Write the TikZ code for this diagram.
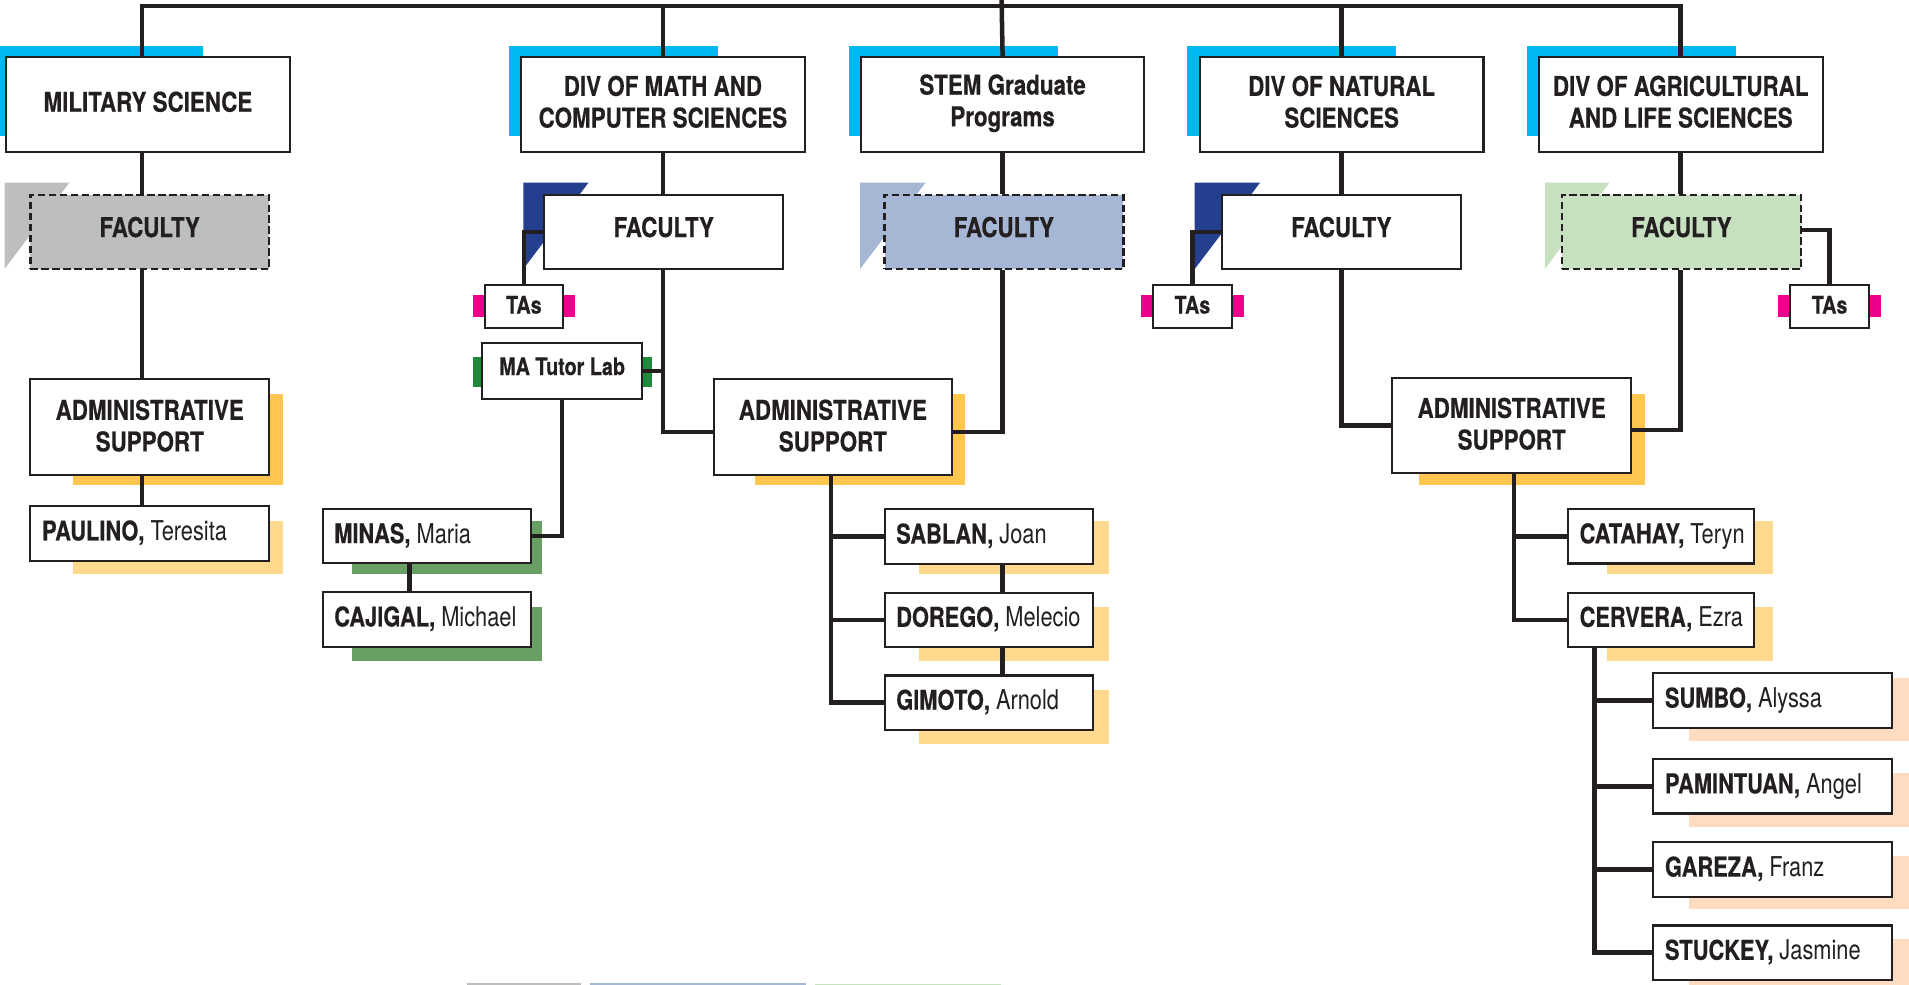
\documentclass[tikz,border=0pt]{standalone}
\usepackage{fontspec}
\setmainfont{TeX Gyre Heros}[FakeStretch=0.82, BoldFeatures={FakeBold=0.4}]
\newfontfamily\namefont{TeX Gyre Heros}[FakeStretch=0.80, BoldFeatures={FakeBold=0.4}]
\usetikzlibrary{calc}
\definecolor{ink}{HTML}{231F20}
\definecolor{cyanacc}{HTML}{00B9F1}
\definecolor{navyacc}{HTML}{253F8F}
\definecolor{greyfac}{HTML}{BCBEC0}
\definecolor{bluefac}{HTML}{A5B7D5}
\definecolor{greenfac}{HTML}{C6E0C0}
\definecolor{magacc}{HTML}{EC008C}
\definecolor{dkgreen}{HTML}{1F8A3A}
\definecolor{gshadow}{HTML}{68A063}
\definecolor{ashadow}{HTML}{FEC64E}
\definecolor{lshadow}{HTML}{FFD98D}
\definecolor{pshadow}{HTML}{FDDCC2}
\pgfdeclarelayer{bg}
\pgfdeclarelayer{mid}
\pgfsetlayers{bg,mid,main}
\begin{document}
\begin{tikzpicture}[x=0.5pt,y=-0.5pt,
  box/.style={draw=ink, line width=0.85pt, fill=white, inner sep=0pt},
  facbox/.style={box, line width=1.05pt, dash pattern=on 3pt off 1.5pt},
  ttl/.style={text=ink, font=\bfseries\fontsize{11.2}{13}\selectfont, align=center, inner sep=0pt},
  small/.style={text=ink, font=\bfseries\fontsize{9.9}{12}\selectfont, inner sep=0pt},
  nm/.style={text=ink, font=\namefont\fontsize{11.2}{13}\selectfont, anchor=base west, inner sep=0pt},
  conn/.style={draw=ink, line width=1.85pt, line join=miter},
  lvone/.style={box, minimum width=116.5pt, minimum height=39pt},
  lvfac/.style={minimum width=98pt, minimum height=30.5pt},
  tabox/.style={box, minimum width=32.25pt, minimum height=17.8pt},
  adminbox/.style={box, minimum width=98pt, minimum height=39.2pt},
  namebox/.style={box, minimum height=22.35pt}
]
\useasboundingbox (0,0) rectangle (1568,809);

% ---------- level 1 ----------
\node[lvone] (mil)  at (121.5,86) {};
\node[lvone] (math) at (544.5,86) {};
\node[lvone] (stem) at (823.5,86) {};
\node[lvone] (nat)  at (1102,86) {};
\node[lvone] (agri) at (1380.5,86) {};
\node[ttl] (milT)  at ([yshift=1.2pt]mil.center) {MILITARY SCIENCE};
\node[ttl] (mathT) at ([yshift=1.2pt]math.center) {DIV OF MATH AND\\COMPUTER SCIENCES};
\node[ttl] (stemT) at ([yshift=0.6pt]stem.center) {STEM Graduate\\Programs};
\node[ttl] (natT)  at ([yshift=1.2pt]nat.center) {DIV OF NATURAL\\SCIENCES};
\node[ttl] (agriT) at ([yshift=1.2pt]agri.center) {DIV OF AGRICULTURAL\\AND LIFE SCIENCES};

% ---------- faculty ----------
\node[facbox, lvfac, fill=greyfac]  (milfac)  at (123,190.5) {};
\node[box,    lvfac]                (mathfac) at (545.2,190.5) {};
\node[facbox, lvfac, fill=bluefac]  (stemfac) at (824.6,190.5) {};
\node[box,    lvfac]                (natfac)  at (1101.75,190.5) {};
\node[facbox, lvfac, fill=greenfac] (agrifac) at (1381.1,190.5) {};
\foreach \f in {milfac,mathfac,stemfac,natfac,agrifac}
  \node[ttl] (\f T) at ([yshift=2pt]\f.center) {FACULTY};

% ---------- TAs ----------
\node[tabox] (mathta) at (430.25,251.8) {};
\node[tabox] (natta)  at (979.4,251.8) {};
\node[tabox] (agrita) at (1502.75,251.8) {};
\foreach \t in {mathta,natta,agrita}
  \node[small] (\t T) at ([yshift=0.7pt]\t.center) {TAs};

% ---------- MA Tutor Lab ----------
\node[box, minimum width=65.7pt, minimum height=22.9pt] (tutor) at (461.7,304.9) {};
\node[small] (tutorT) at ([yshift=2pt]tutor.center) {MA Tutor Lab};

% ---------- administrative support ----------
\node[adminbox] (miladmin) at (123,350.8) {};
\node[adminbox] (madmin)   at (684.1,350.8) {};
\node[adminbox] (radmin)   at (1241.65,349.3) {};
\foreach \a in {miladmin,madmin,radmin}
  \node[ttl] (\a T) at ([yshift=0.6pt]\a.center) {ADMINISTRATIVE\\SUPPORT};

% ---------- names ----------
\node[namebox, minimum width=98pt, minimum height=22.7pt] (paulino) at (123,438.1) {};
\node[namebox, minimum width=85.7pt] (minas)   at (350.7,440.35) {};
\node[namebox, minimum width=85.7pt] (cajigal) at (350.7,508.75) {};
\node[namebox, minimum width=85.7pt] (sablan)  at (812.3,440.7) {};
\node[namebox, minimum width=85.7pt] (dorego)  at (812.3,509.05) {};
\node[namebox, minimum width=85.7pt] (gimoto)  at (812.3,577.15) {};
\node[namebox, minimum width=76.55pt] (catahay) at (1364.45,440.5) {};
\node[namebox, minimum width=76.55pt] (cervera) at (1364.45,509.05) {};
\node[namebox, minimum width=97.9pt] (sumbo)   at (1455.9,575.4) {};
\node[namebox, minimum width=97.9pt] (pamin)   at (1455.9,645.8) {};
\node[namebox, minimum width=97.9pt] (gareza)  at (1455.9,714.2) {};
\node[namebox, minimum width=97.9pt] (stuckey) at (1455.9,782.5) {};
\node[nm] (paulinoT) at ([xshift=5pt,yshift=-2.9pt]paulino.west) {\textbf{PAULINO,} Teresita};
\node[nm] (minasT)   at ([xshift=5pt,yshift=-2.9pt]minas.west) {\textbf{MINAS,} Maria};
\node[nm] (cajigalT) at ([xshift=5pt,yshift=-2.9pt]cajigal.west) {\textbf{CAJIGAL,} Michael};
\node[nm] (sablanT)  at ([xshift=5pt,yshift=-2.9pt]sablan.west) {\textbf{SABLAN,} Joan};
\node[nm] (doregoT)  at ([xshift=5pt,yshift=-2.9pt]dorego.west) {\textbf{DOREGO,} Melecio};
\node[nm] (gimotoT)  at ([xshift=5pt,yshift=-2.9pt]gimoto.west) {\textbf{GIMOTO,} Arnold};
\node[nm] (catahayT) at ([xshift=5pt,yshift=-2.9pt]catahay.west) {\textbf{CATAHAY,} Teryn};
\node[nm] (cerveraT) at ([xshift=5pt,yshift=-2.9pt]cervera.west) {\textbf{CERVERA,} Ezra};
\node[nm] (sumboT)   at ([xshift=5pt,yshift=-2.9pt]sumbo.west) {\textbf{SUMBO,} Alyssa};
\node[nm] (paminT)   at ([xshift=5pt,yshift=-2.9pt]pamin.west) {\textbf{PAMINTUAN,} Angel};
\node[nm] (garezaT)  at ([xshift=5pt,yshift=-2.9pt]gareza.west) {\textbf{GAREZA,} Franz};
\node[nm] (stuckeyT) at ([xshift=5pt,yshift=-2.9pt]stuckey.west) {\textbf{STUCKEY,} Jasmine};

% ---------- helper coordinates ----------
\coordinate (root) at (822.5,-10);
\coordinate (busR) at (1380.5,5);
\coordinate (milx) at (116.6,0);
\coordinate (minasx) at (336.3,0);
\coordinate (tx1) at (682.4,0);
\coordinate (tx2) at (1243.6,0);
\coordinate (tx3) at (1309.6,0);

% ---------- accents and shadows ----------
\begin{pgfonlayer}{bg}
  \foreach \L in {5,428,707,985,1264}
    \fill[cyanacc] (\L-10,38) rectangle (\L+162,112);
  \fill[greyfac]  (3.7,150) -- (57,150) -- (3.7,221) -- cycle;
  \fill[navyacc]  (429.8,150) -- (483.4,150) -- (429.8,221) -- cycle;
  \fill[bluefac]  (706.4,150) -- (760.2,150) -- (706.4,221) -- cycle;
  \fill[navyacc]  (981.3,150) -- (1035,150) -- (981.3,221) -- cycle;
  \fill[greenfac] (1268.9,150) -- (1322,150) -- (1268.9,221) -- cycle;
  \fill[magacc] (388.3,242.3) rectangle (472.5,260);
  \fill[magacc] (937,242.3) rectangle (1021.8,260);
  \fill[magacc] (1460.5,242.3) rectangle (1545,260);
  \fill[dkgreen] (388.6,293.5) rectangle (535.4,317.6);
  \fill[ashadow] (60,323.7) rectangle (232.5,398);
  \fill[ashadow] (620,323.7) rectangle (792.7,398);
  \fill[ashadow] (1165.5,323.6) rectangle (1351.2,398.1);
  \fill[lshadow] (60,428) rectangle (232.5,471.7);
  \fill[gshadow] (289,428) rectangle (444.8,471.5);
  \fill[gshadow] (289,498.8) rectangle (444.8,542.7);
  \fill[lshadow] (755,428) rectangle (910.6,471.8);
  \fill[lshadow] (755,498.6) rectangle (910.6,542.7);
  \fill[lshadow] (755,566.8) rectangle (910.6,610.9);
  \fill[lshadow] (1320,428) rectangle (1456,471.8);
  \fill[lshadow] (1320,498.6) rectangle (1456,542.7);
  \fill[pshadow] (1387.4,556.7) rectangle (1572,608.4);
  \fill[pshadow] (1387.4,635.2) rectangle (1572,679);
  \fill[pshadow] (1387.4,703) rectangle (1572,747);
  \fill[pshadow] (1387.4,771.3) rectangle (1572,815);
  \fill[greyfac]  (383.5,807.3) rectangle (477.3,812);
  \fill[bluefac]  (484.5,807.3) rectangle (662,812);
  \fill[greenfac] (669.5,808.3) rectangle (822,812);
\end{pgfonlayer}

% ---------- connectors ----------
\begin{pgfonlayer}{mid}
  \draw[conn] (root) -- (stem.north);
  \draw[conn] (mil.north -| milx) |- (busR) -- (agri.north);
  \draw[conn] (math.north) -- (math.north |- busR);
  \draw[conn] (nat.north) -- (nat.north |- busR);
  % military
  \draw[conn] (mil.south -| milx) -- (milfac.north -| milx);
  \draw[conn] (milfac.south -| milx) -- (miladmin.north -| milx);
  \draw[conn] (miladmin.south -| milx) -- (paulino.north -| milx);
  % math
  \draw[conn] (math.south) -- (math.south |- mathfac.north);
  \draw[conn] (mathfac.west) -| (mathta.north);
  \draw[conn] (mathfac.south -| math.south) |- ([yshift=-2pt]madmin.west);
  \draw[conn] (tutor.east) -- (tutor.east -| math.south);
  \draw[conn] (tutor.south) |- (minas.east);
  \draw[conn] (minas.south -| minasx) -- (cajigal.north -| minasx);
  % stem
  \draw[conn] (stem.south) -- (stem.south |- stemfac.north);
  \draw[conn] (stemfac.south -| stem.south) |- ([yshift=-2pt]madmin.east);
  \draw[conn] (madmin.south -| tx1) |- (gimoto.west);
  \draw[conn] (sablan.west) -- (sablan.west -| tx1);
  \draw[conn] (dorego.west) -- (dorego.west -| tx1);
  \draw[conn] (sablan.south -| stem.south) -- (dorego.north -| stem.south);
  \draw[conn] (dorego.south -| stem.south) -- (gimoto.north -| stem.south);
  % natural
  \draw[conn] (nat.south) -- (nat.south |- natfac.north);
  \draw[conn] (natfac.west) -| (natta.north);
  \draw[conn] (natfac.south -| nat.south) |- (radmin.west);
  % agricultural
  \draw[conn] (agri.south) -- (agri.south |- agrifac.north);
  \draw[conn] ([yshift=0.7pt]agrifac.east) -| (agrita.north);
  \draw[conn] (agrifac.south -| agri.south) |- ([yshift=-2pt]radmin.east);
  \draw[conn] (radmin.south -| tx2) |- (cervera.west);
  \draw[conn] (catahay.west) -- (catahay.west -| tx2);
  \draw[conn] (cervera.south -| tx3) |- (stuckey.west);
  \draw[conn] (sumbo.west) -- (sumbo.west -| tx3);
  \draw[conn] (pamin.west) -- (pamin.west -| tx3);
  \draw[conn] (gareza.west) -- (gareza.west -| tx3);
\end{pgfonlayer}
\end{tikzpicture}
\end{document}
